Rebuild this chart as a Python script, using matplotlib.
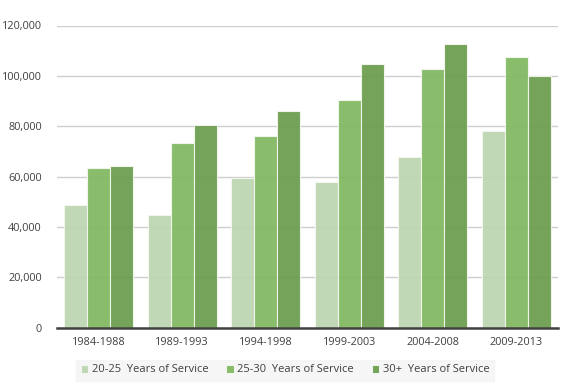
import matplotlib.pyplot as plt
import numpy as np

periods = ["1984-1988", "1989-1993", "1994-1998", "1999-2003", "2004-2008", "2009-2013"]
yrs_20_25 = [48500, 44900, 59300, 58000, 67600, 78200]
yrs_25_30 = [63200, 73200, 75900, 90300, 102900, 107300]
yrs_30_plus = [64000, 80300, 85900, 104600, 112600, 100100]
series_names = ["20-25  Years of Service", "25-30  Years of Service", "30+  Years of Service"]
colors = ["#bcd5b0", "#80b860", "#6a9c4c"]

plt.rcParams['font.family'] = ['Open Sans', 'DejaVu Sans']

fig = plt.figure(figsize=(5.69, 3.88), dpi=100)
ax = fig.add_axes([57 / 569, 1 - 327.5 / 388, 501 / 569, 302 / 388])

x = np.arange(len(periods))
w = 0.275
for i, vals in enumerate([yrs_20_25, yrs_25_30, yrs_30_plus]):
    ax.bar(x + (i - 1) * w, vals, width=w, color=colors[i], alpha=0.93,
           edgecolor="#f4f8f0", linewidth=0.8, label=series_names[i], zorder=3)

ax.set_xlim(-0.5, len(periods) - 0.5)
ax.set_ylim(0, 120000)
ax.set_yticks(range(0, 120001, 20000))
ax.set_yticklabels([f"{v:,}" for v in range(0, 120001, 20000)])
ax.set_xticks(x)
ax.set_xticklabels(periods)
ax.tick_params(axis="both", length=0, labelsize=7.8, colors="#404040", pad=7)
ax.tick_params(axis="y", pad=11)
ax.grid(axis="y", color="#cfcfcf", linewidth=1.0, zorder=1)
for s in ["top", "right", "left"]:
    ax.spines[s].set_visible(False)
ax.spines["bottom"].set_color("#404040")
ax.spines["bottom"].set_linewidth(1.8)
ax.spines["bottom"].set_zorder(4)

leg = ax.legend(loc="center", bbox_to_anchor=(285 / 569, 1 - 370 / 388),
                bbox_transform=fig.transFigure, ncol=3, frameon=True, fontsize=8,
                handlelength=0.7, handleheight=0.7, handletextpad=0.3,
                columnspacing=1.6, borderpad=0.45, fancybox=False)
leg.get_frame().set_facecolor("#f4f4f4")
leg.get_frame().set_edgecolor("#f4f4f4")
for t in leg.get_texts():
    t.set_color("#404040")

fig.savefig("out.png", dpi=100)
